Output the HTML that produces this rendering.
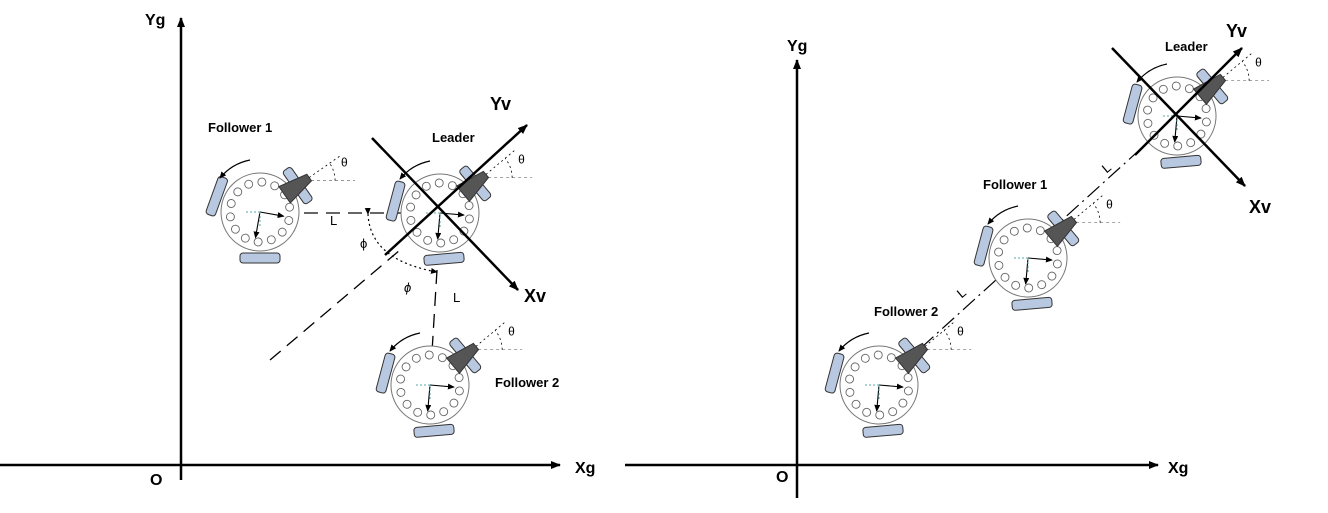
<!DOCTYPE html>
<html><head><meta charset="utf-8">
<style>
html,body{margin:0;padding:0;background:#fff;}
svg{display:block;font-family:"Liberation Sans",sans-serif;}
</style></head>
<body>
<svg id="fig" width="1328" height="513" viewBox="0 0 1328 513">
<defs>
<marker id="ah" markerWidth="10" markerHeight="8" refX="9" refY="4" orient="auto" markerUnits="userSpaceOnUse"><path d="M0,0 L10,4 L0,8 z" fill="#000"/></marker>
<marker id="ahs" markerWidth="7" markerHeight="6" refX="6" refY="3" orient="auto" markerUnits="userSpaceOnUse"><path d="M0,0 L7,3 L0,6 z" fill="#000"/></marker>
</defs>
<g>
<line x1="181" y1="480" x2="181" y2="18" stroke="#000" stroke-width="2.5" marker-end="url(#ah)"/>
<line x1="0" y1="465" x2="560" y2="465" stroke="#000" stroke-width="2.5" marker-end="url(#ah)"/>
<text x="145" y="25" font-size="16" font-weight="bold">Yg</text>
<text x="575" y="473" font-size="16" font-weight="bold">Xg</text>
<text x="150" y="485" font-size="16" font-weight="bold">O</text>
</g>
<g>
<line x1="797" y1="498" x2="797" y2="60" stroke="#000" stroke-width="2.5" marker-end="url(#ah)"/>
<line x1="625" y1="465" x2="1158" y2="465" stroke="#000" stroke-width="2.5" marker-end="url(#ah)"/>
<text x="787" y="51" font-size="16" font-weight="bold">Yg</text>
<text x="1168" y="473" font-size="16" font-weight="bold">Xg</text>
<text x="776" y="482" font-size="16" font-weight="bold">O</text>
</g>
<g stroke="#000" fill="none">
<line x1="260" y1="213" x2="440" y2="213" stroke-width="1.5" stroke-dasharray="14,8" stroke="#333"/>
<line x1="270" y1="360" x2="400" y2="250" stroke-width="1.3" stroke-dasharray="14,8"/>
<line x1="437" y1="270" x2="430" y2="385" stroke-width="1.3" stroke-dasharray="14,8"/>
<path d="M368,214 Q370,260 437,272" stroke-width="1.2" stroke-dasharray="2,3" marker-start="url(#ahs)" marker-end="url(#ahs)"/>
</g>
<text x="360" y="248" font-size="13">ϕ</text>
<text x="404" y="292" font-size="13" font-style="italic">ϕ</text>
<text x="330" y="225" font-size="13">L</text>
<text x="453" y="302" font-size="13">L</text>
<line x1="880" y1="385" x2="1177" y2="116" stroke="#000" stroke-width="1.2" stroke-dasharray="16,5,2,5"/>
<text x="958" y="297" font-size="13" transform="rotate(-40 962 293)">L</text>
<text x="1103" y="172" font-size="13" transform="rotate(-40 1107 168)">L</text>
<g id="robots"></g>
<g stroke="#000" stroke-width="2.5">
<line x1="372" y1="138" x2="518" y2="290" marker-end="url(#ah)"/>
<line x1="385" y1="255" x2="527" y2="125" marker-end="url(#ah)"/>
</g>
<text x="490" y="110" font-size="18" font-weight="bold">Yv</text>
<text x="524" y="302" font-size="18" font-weight="bold">Xv</text>
<g stroke="#000" stroke-width="2.5">
<line x1="1112" y1="48" x2="1245" y2="186" marker-end="url(#ah)"/>
<line x1="1135" y1="155" x2="1242" y2="48" marker-end="url(#ah)"/>
</g>
<text x="1226" y="37" font-size="18" font-weight="bold">Yv</text>
<text x="1249" y="213" font-size="18" font-weight="bold">Xv</text>
<text x="208" y="132" font-size="13" font-weight="bold">Follower 1</text>
<text x="432" y="142" font-size="13" font-weight="bold">Leader</text>
<text x="495" y="387" font-size="13" font-weight="bold">Follower 2</text>
<text x="1165" y="51" font-size="13" font-weight="bold">Leader</text>
<text x="983" y="189" font-size="13" font-weight="bold">Follower 1</text>
<text x="874" y="316" font-size="13" font-weight="bold">Follower 2</text>
</svg>
<script>
const robotNames = ["follower1-left","leader-left","follower2-left","leader-right","follower1-right","follower2-right"];
const robotX = [260,440,430,1177,1028,879];
const robotY = [212,213,385,116,258,385];
const robotHeading = [35,40,40,40,40,40];
const NS="http://www.w3.org/2000/svg";
const host=document.getElementById('robots');
function mk(tag,attrs,parent){const e=document.createElementNS(NS,tag);for(const k in attrs)e.setAttribute(k,attrs[k]);parent.appendChild(e);return e;}
for(let i=0;i<robotNames.length;i++){
  const g=mk('g',{transform:`translate(${robotX[i]},${robotY[i]})`},host);
  
  
  const h=robotHeading[i];
  const rad=h*Math.PI/180;
  const vx=55*Math.cos(rad), vy=-55*Math.sin(rad);
  mk('line',{x1:vx,y1:vy,x2:vx+45*Math.cos(rad),y2:vy-45*Math.sin(rad),stroke:'#000','stroke-width':0.8,'stroke-dasharray':'2,3'},g);
  mk('line',{x1:vx,y1:vy,x2:vx+50,y2:vy,stroke:'#888','stroke-width':0.8,'stroke-dasharray':'3,3'},g);
  mk('path',{d:`M${vx+30},${vy} A30,30 0 0 0 ${vx+30*Math.cos(rad)},${vy-30*Math.sin(rad)}`,fill:'none',stroke:'#000','stroke-width':0.8,'stroke-dasharray':'2,3'},g);
  const th=mk('text',{x:vx+36,y:vy-14,'font-size':12},g);
  th.textContent='θ';
  
  
  const r=mk('g',{transform:`rotate(${-h})`},g);
  mk('circle',{cx:0,cy:0,r:39,fill:'#fff',stroke:'#777','stroke-width':1},r);
  for(let k=0;k<14;k++){const a=k/14*2*Math.PI;mk('circle',{cx:30*Math.cos(a),cy:30*Math.sin(a),r:4,fill:'none',stroke:'#666','stroke-width':0.9},r);}
  [0,125,235].forEach(a=>{
    const w=mk('g',{transform:`rotate(${-a}) translate(46,0)`},r);
    mk('rect',{x:-5,y:-20,width:10,height:40,rx:3,fill:'#b8c8e0',stroke:'#333','stroke-width':1},w);
  });
  mk('path',{d:'M30,-10 L60,-4 L60,4 L30,10 Z',fill:'#555',stroke:'#333','stroke-width':1},r);
  mk('line',{x1:0,y1:0,x2:-26,y2:0,stroke:'#000','stroke-width':1.1,'marker-end':'url(#ahs)',transform:'rotate(-45)'},r);
  mk('line',{x1:0,y1:0,x2:-24,y2:0,stroke:'#000','stroke-width':1.1,'marker-end':'url(#ahs)',transform:'rotate(-135)'},r);
  mk('line',{x1:0,y1:0,x2:-16,y2:0,stroke:'#5aa','stroke-width':1,'stroke-dasharray':'2,2',transform:`rotate(${h})`},r);
  mk('line',{x1:0,y1:0,x2:0,y2:16,stroke:'#5aa','stroke-width':1,'stroke-dasharray':'2,2',transform:`rotate(${h})`},r);
  mk('path',{d:'M-10,-52 A52,52 0 0 0 -40,-34',fill:'none',stroke:'#000','stroke-width':1.2,'marker-end':'url(#ahs)',transform:`rotate(${h})`},r);
}
</script>
</body></html>
